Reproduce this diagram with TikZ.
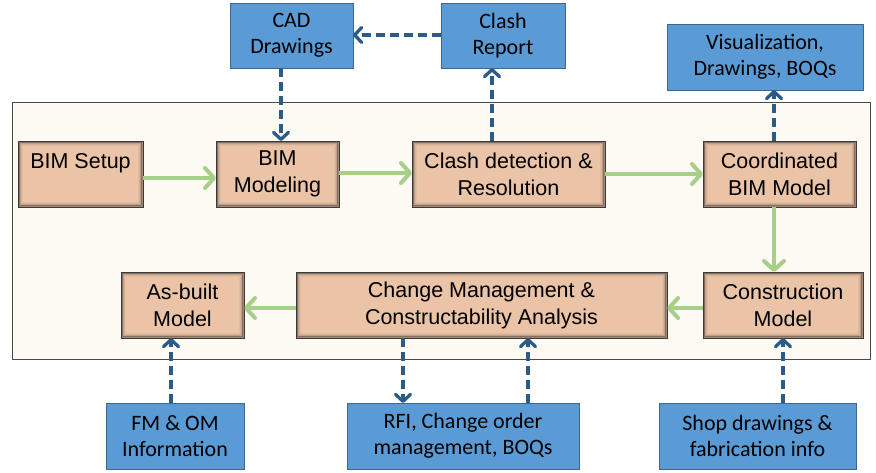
\documentclass[tikz,border=0pt]{standalone}
\usepackage{fontspec}
\setmainfont{Liberation Sans}
\newfontfamily\calibrifont{Carlito}
\usetikzlibrary{arrows.meta}

\definecolor{procfill}{HTML}{EBC4A8}
\definecolor{procline}{HTML}{3A3A3A}
\definecolor{docfill}{HTML}{5B9BD5}
\definecolor{docline}{HTML}{3B6790}
\definecolor{flowgreen}{HTML}{A6D08A}
\definecolor{linkblue}{HTML}{2B5C88}
\definecolor{panelfill}{HTML}{FDFAF3}
\definecolor{panelline}{HTML}{4A4A4A}

\tikzset{
  proc/.style={draw=procline, fill=procfill, line width=0.8pt,
    inner sep=0pt, outer sep=0pt, align=center,
    font=\fontsize{21.5}{27}\selectfont,
    path picture={
      \foreach \d/\o in {0.9/0.30,2.1/0.18,3.3/0.09,4.5/0.04}
        \draw[black, opacity=\o, line width=1.3pt]
          ([shift={(\d pt,-\d pt)}]path picture bounding box.north west) rectangle
          ([shift={(-\d pt,\d pt)}]path picture bounding box.south east);
    }},
  doc/.style={draw=docline, fill=docfill, line width=0.9pt,
    inner sep=0pt, outer sep=0pt, align=center,
    font=\calibrifont\fontsize{22}{26}\selectfont},
  flow/.style={draw=flowgreen, line width=4pt,
    -{Straight Barb[length=9pt, width=20pt, round]}},
  link/.style={draw=linkblue, line width=3.3pt, dash pattern=on 9pt off 5pt,
    -{Straight Barb[length=7pt, width=15pt, round]}},
}

\begin{document}
\begin{tikzpicture}[x=1pt, y=-1pt]
  \useasboundingbox (0,0) rectangle (876,472);

  % lifecycle panel
  \node[draw=panelline, fill=panelfill, line width=0.8pt, inner sep=0pt,
        minimum width=858pt, minimum height=257pt] (panel) at (441,230.5) {};

  % process steps
  \node[proc, minimum width=125pt, minimum height=66pt] (setup)  at (80.5,174)  {BIM Setup\\\mbox{}};
  \node[proc, minimum width=123pt, minimum height=66pt] (model)  at (277.5,174) {BIM\\Modeling};
  \node[proc, minimum width=193pt, minimum height=66pt] (clash)  at (508.5,174) {Clash detection \&\\Resolution};
  \node[proc, minimum width=153pt, minimum height=66pt] (coord)  at (779.5,174) {Coordinated\\BIM Model};
  \node[proc, minimum width=123pt, minimum height=66pt] (asbuilt) at (182.5,305) {As-built\\Model};
  \node[proc, minimum width=371pt, minimum height=66pt] (change) at (481.5,305) {Change Management \&\\Constructability Analysis};
  \node[proc, minimum width=160pt, minimum height=66pt] (constr) at (783,305)   {Construction\\Model};

  % documents and information exchanged
  \node[doc, minimum width=123pt, minimum height=65pt] (cad)    at (291.5,35.5) {CAD\\Drawings};
  \node[doc, minimum width=124pt, minimum height=65pt] (report) at (503,35.5)   {Clash\\Report};
  \node[doc, minimum width=196pt, minimum height=66pt] (vis)    at (765,57)     {Visualization,\\Drawings, BOQs};
  \node[doc, minimum width=138pt, minimum height=66pt] (fm)     at (175,436)    {FM \& OM\\Information};
  \node[doc, minimum width=232pt, minimum height=66pt] (rfi)    at (463,436)    {RFI, Change order\\management, BOQs};
  \node[doc, minimum width=197pt, minimum height=66pt] (shop)   at (757.5,436)  {Shop drawings \&\\fabrication info};

  % main workflow
  \draw[flow] (setup.east |- 0,178) -- (model.west |- 0,178);
  \draw[flow] (model.east |- 0,173) -- (clash.west |- 0,173);
  \draw[flow] (clash.east |- 0,174) -- (coord.west |- 0,174);
  \draw[flow] (coord.south -| 774,0) -- (constr.north -| 774,0);
  \draw[flow] (constr.west |- 0,308) -- (change.east |- 0,308);
  \draw[flow] (change.west |- 0,308) -- (asbuilt.east |- 0,308);

  % information links
  \draw[link] (cad.south -| 281,0) -- (model.north -| 281,0);
  \draw[link] (clash.north -| 492,0) -- (report.south -| 492,0);
  \draw[link] (report.west |- 0,35) -- (cad.east |- 0,35);
  \draw[link] (coord.north -| 774,0) -- (vis.south -| 774,0);
  \draw[link] (fm.north -| 171,0) -- (asbuilt.south -| 171,0);
  \draw[link] (change.south -| 403,0) -- (rfi.north -| 403,0);
  \draw[link] (rfi.north -| 528,0) -- (change.south -| 528,0);
  \draw[link] (shop.north -| 783,0) -- (constr.south -| 783,0);
\end{tikzpicture}
\end{document}
